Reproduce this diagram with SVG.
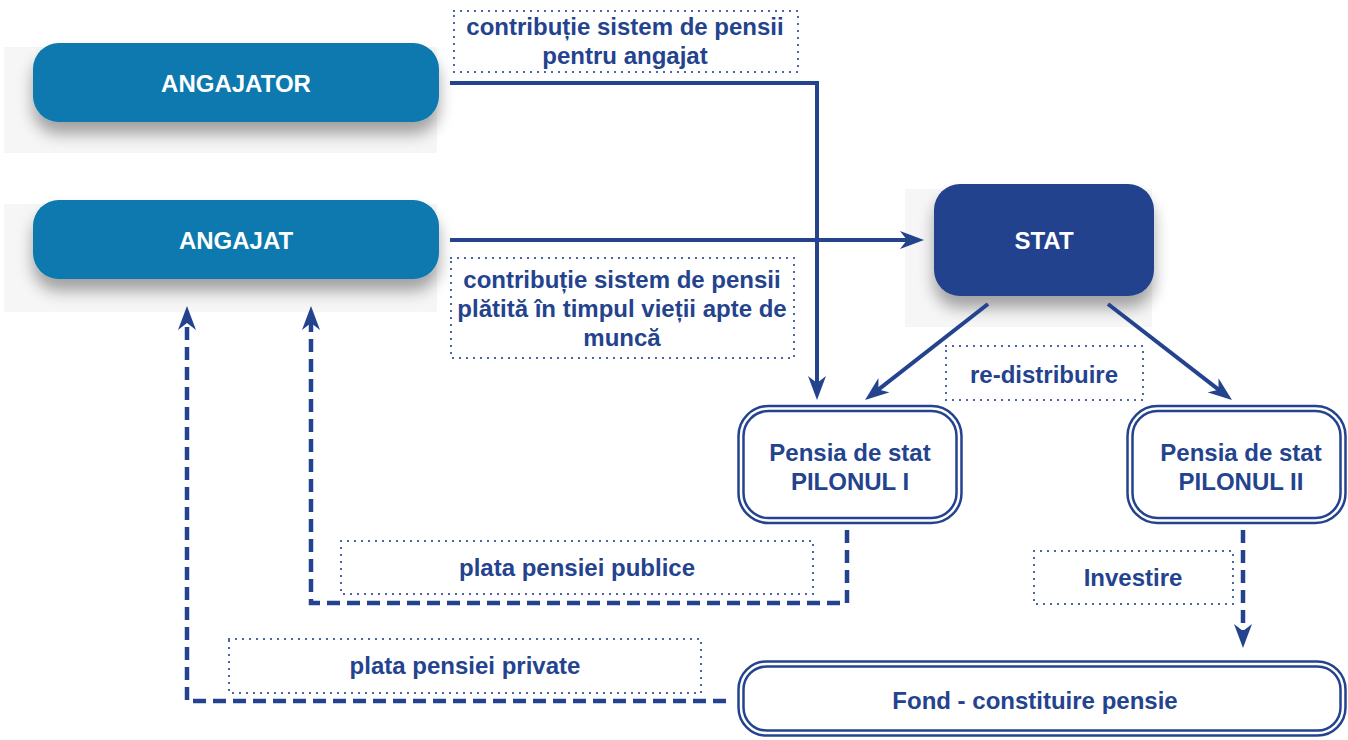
<svg xmlns="http://www.w3.org/2000/svg" width="1348" height="740" viewBox="0 0 1348 740">
<style>
text{font-family:"Liberation Sans",Arial,sans-serif;font-weight:bold;font-size:24px;text-anchor:middle}
.w{fill:#ffffff}
.b{fill:#24438e}
.bg{fill:#f6f6f6}
.dot{fill:none;stroke:#24438e;stroke-width:2.2;stroke-dasharray:0 7;stroke-linecap:round}
.dbl{fill:#ffffff;stroke:#24438e;stroke-width:2.5}
.dbli{fill:none;stroke:#24438e;stroke-width:2.5}
.ln{fill:none;stroke:#24438e;stroke-width:4}
.dash{fill:none;stroke:#24438e;stroke-width:4.5;stroke-dasharray:13 7}
</style>
<defs>
<filter id="sh" x="-20%" y="-30%" width="140%" height="190%">
<feGaussianBlur in="SourceAlpha" stdDeviation="8"/>
<feOffset dx="0" dy="12" result="o"/>
<feComponentTransfer><feFuncA type="linear" slope="0.35"/></feComponentTransfer>
<feMerge><feMergeNode/><feMergeNode in="SourceGraphic"/></feMerge>
</filter>
<marker id="ah" viewBox="0 0 24 18" refX="12" refY="9" markerWidth="24" markerHeight="18" markerUnits="userSpaceOnUse" orient="auto">
<path d="M0,0 L24,9 L0,18 L7,9 z" fill="#24438e"/>
</marker>
</defs>
<rect width="1348" height="740" fill="#ffffff"/>

<g id="angajator">
<rect class="bg" x="4" y="47" width="433" height="106"/>
<rect x="33" y="43" width="406" height="79" rx="26" fill="#0779ae" filter="url(#sh)"/>
<text class="w" x="236" y="92">ANGAJATOR</text>
</g>

<g id="angajat">
<rect class="bg" x="4" y="204" width="433" height="108"/>
<rect x="33" y="200" width="406" height="79" rx="26" fill="#0779ae" filter="url(#sh)"/>
<text class="w" x="236" y="249">ANGAJAT</text>
</g>

<g id="stat">
<rect class="bg" x="905" y="189" width="247" height="138"/>
<rect x="934" y="184" width="220" height="112" rx="26" fill="#24438e" filter="url(#sh)"/>
<text class="w" x="1044" y="249">STAT</text>
</g>

<g id="pilonul1">
<rect class="dbl" x="738.5" y="406" width="223" height="117" rx="30"/>
<rect class="dbli" x="743.5" y="411" width="213" height="107" rx="25"/>
<text class="b" x="850" y="461">Pensia de stat</text>
<text class="b" x="850" y="490">PILONUL I</text>
</g>

<g id="pilonul2">
<rect class="dbl" x="1127.5" y="406" width="218" height="117" rx="30"/>
<rect class="dbli" x="1132.5" y="411" width="208" height="107" rx="25"/>
<text class="b" x="1241" y="461">Pensia de stat</text>
<text class="b" x="1241" y="490">PILONUL II</text>
</g>

<g id="fond">
<rect class="dbl" x="738.5" y="661.5" width="607" height="74" rx="28"/>
<rect class="dbli" x="743.5" y="666.5" width="597" height="64" rx="23"/>
<text class="b" x="1035" y="709">Fond - constituire pensie</text>
</g>

<g id="connectors">
<path class="ln" d="M450,83 H817 V388" marker-end="url(#ah)"/>
<path class="ln" d="M450,240 H912" marker-end="url(#ah)"/>
<path class="ln" d="M988,304 L874.5,392.6" marker-end="url(#ah)"/>
<path class="ln" d="M1108,304 L1222.5,392.7" marker-end="url(#ah)"/>
<path class="dash" d="M847,530 V603 H311 V318" marker-end="url(#ah)"/>
<path class="dash" d="M726,701 H187 V318" marker-end="url(#ah)"/>
<path class="dash" d="M1243,530 V636" marker-end="url(#ah)"/>
</g>

<g id="labels">
<rect class="dot" x="454" y="11" width="344" height="61"/>
<text class="b" x="625" y="35">contribuție sistem de pensii</text>
<text class="b" x="625" y="64">pentru angajat</text>

<rect class="dot" x="451" y="258" width="343" height="100"/>
<text class="b" x="622" y="288">contribuție sistem de pensii</text>
<text class="b" x="622" y="317">plătită în timpul vieții apte de</text>
<text class="b" x="622" y="346">muncă</text>

<rect class="dot" x="946" y="346" width="197" height="54"/>
<text class="b" x="1044" y="383">re-distribuire</text>

<rect class="dot" x="341" y="541" width="472" height="53"/>
<text class="b" x="577" y="576">plata pensiei publice</text>

<rect class="dot" x="229" y="639" width="472" height="54"/>
<text class="b" x="465" y="674">plata pensiei private</text>

<rect class="dot" x="1034" y="551" width="199" height="53"/>
<text class="b" x="1133" y="586">Investire</text>
</g>
</svg>
